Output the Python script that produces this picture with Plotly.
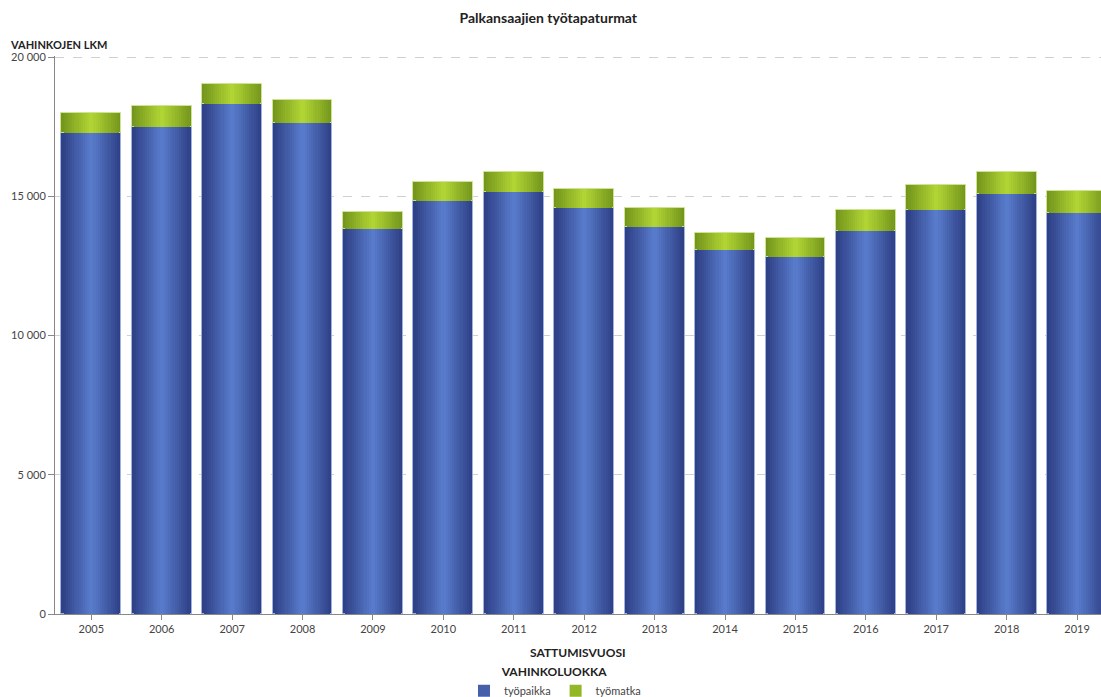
import plotly.graph_objects as go

years = ["2005", "2006", "2007", "2008", "2009", "2010", "2011", "2012",
         "2013", "2014", "2015", "2016", "2017", "2018", "2019"]
tyopaikka = [17270, 17474, 18325, 17630, 13825, 14830, 15167, 14593,
             13886, 13086, 12835, 13754, 14520, 15070, 14400]
totals = [17990, 18239, 19042, 18443, 14435, 15512, 15870, 15275,
          14568, 13683, 13516, 14507, 15393, 15859, 15203]
tyomatka = [t - b for t, b in zip(totals, tyopaikka)]

y_ticks = [0, 5000, 10000, 15000, 20000]

FONT = "Lato"
BAR_W = 0.85
N_LAYERS = 14


def lerp(c1, c2, t):
    return "rgb(%d,%d,%d)" % tuple(round(a + (b - a) * t) for a, b in zip(c1, c2))


blue_edge, blue_mid = (46, 64, 134), (88, 122, 202)
green_edge, green_mid = (116, 150, 28), (176, 212, 52)

fig = go.Figure()
idx = list(range(len(years)))

for series, base, name, c_edge, c_mid, line_c in [
    (tyopaikka, None, "työpaikka", blue_edge, blue_mid, "rgba(160,180,225,0.9)"),
    (tyomatka, tyopaikka, "työmatka", green_edge, green_mid, "rgba(210,230,150,0.9)"),
]:
    for k in range(N_LAYERS):
        t = k / (N_LAYERS - 1)
        w = BAR_W * (1 - k / N_LAYERS)
        show = k == N_LAYERS // 2
        fig.add_trace(go.Bar(
            x=idx, y=series, base=base, width=w,
            marker=dict(color=lerp(c_edge, c_mid, t),
                        line=dict(width=1 if k == 0 else 0, color=line_c)),
            name=name, legendgroup=name, showlegend=show,
            hoverinfo="skip" if not show else None,
        ))

fig.update_layout(
    barmode="overlay",
    width=1101, height=697,
    margin=dict(l=55, r=0, t=56, b=83, autoexpand=False),
    paper_bgcolor="white", plot_bgcolor="white",
    separators=", ",
    font=dict(family=FONT, size=11, color="#444"),
    title=dict(text="<b>Palkansaajien työtapaturmat</b>", x=0.498, xanchor="center",
               y=0.974, yanchor="middle", font=dict(size=14, color="#222", family=FONT)),
    showlegend=True,
    legend=dict(orientation="h", x=0.478, xanchor="center",
                yref="container", y=0.052, yanchor="top",
                title=dict(text="<b>VAHINKOLUOKKA</b>", side="top center",
                           font=dict(size=12, color="#222")),
                font=dict(size=11, color="#444"), itemwidth=30,
                traceorder="normal", tracegroupgap=0),
    bargap=0,
)

fig.update_xaxes(
    type="linear", range=[-0.516, 14.34],
    tickvals=idx, ticktext=years, ticks="outside", ticklen=5, tickcolor="#888",
    showline=True, linecolor="#888", linewidth=1, showgrid=False, zeroline=False,
    tickfont=dict(size=11, color="#444"),
)
fig.update_yaxes(
    range=[0, 20040], tickvals=y_ticks, tickformat=",d",
    ticks="outside", ticklen=6, tickcolor="#888",
    showline=True, linecolor="#888", linewidth=1,
    showgrid=True, gridcolor="#d0d0d0", griddash="dash", gridwidth=1, zeroline=False,
    tickfont=dict(size=11, color="#444"),
)

fig.add_annotation(text="<b>VAHINKOJEN LKM</b>", xref="paper", yref="paper",
                   x=0, y=1, xshift=-47, yshift=12, xanchor="left", yanchor="middle",
                   showarrow=False, font=dict(size=11, color="#222"))
fig.add_annotation(text="<b>SATTUMISVUOSI</b>", xref="paper", yref="paper",
                   x=0.5, y=0, yshift=-38, xanchor="center", yanchor="middle",
                   showarrow=False, font=dict(size=12, color="#222"))

fig.write_html("out.html", config={"displayModeBar": False},
               post_script="document.body.style.margin='0';document.body.style.overflow='hidden';")
